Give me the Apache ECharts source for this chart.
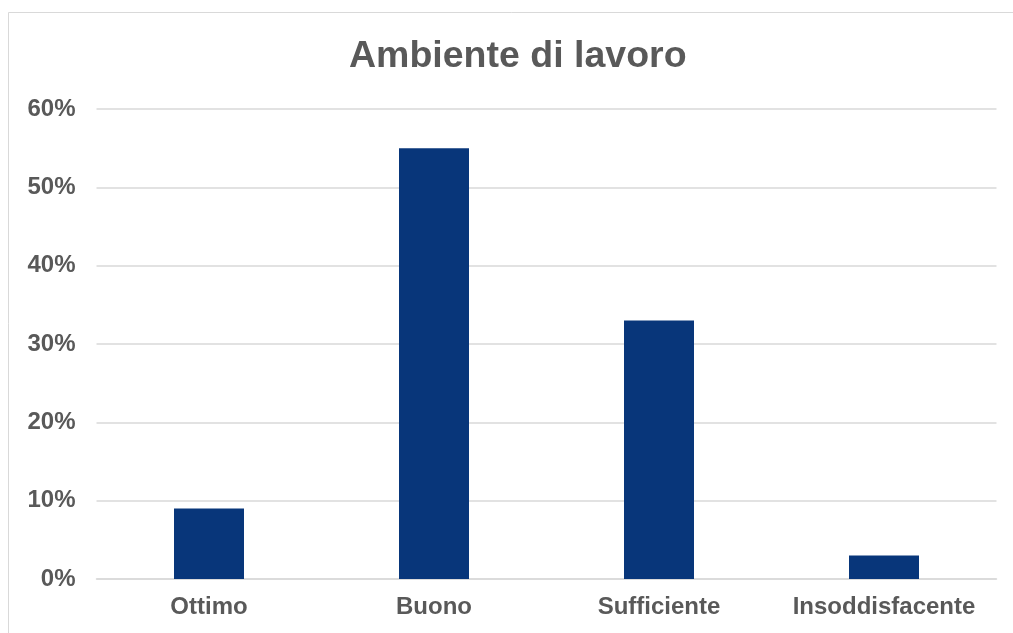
<!DOCTYPE html>
<html><head><meta charset="utf-8">
<script src="https://cdn.jsdelivr.net/npm/echarts@6/dist/echarts.min.js"></script>
<style>html,body{margin:0;padding:0;background:#fff}#c{width:1013px;height:633px}</style>
</head><body><div id="c"></div>
<script>
const categories = ['Ottimo', 'Buono', 'Sufficiente', 'Insoddisfacente'];
const values = [9, 55, 33, 3];
const yTicks = [0, 10, 20, 30, 40, 50, 60];

const chart = echarts.init(document.getElementById('c'), null, {renderer: 'canvas'});
chart.setOption({
  animation: false,
  backgroundColor: '#fff',
  graphic: [{
    type: 'rect', shape: {x: 8.5, y: 12.5, width: 1100, height: 700},
    style: {fill: 'none', stroke: '#d9d9d9', lineWidth: 1}, silent: true, z: -1
  }],
  title: {
    text: 'Ambiente di lavoro', left: 344, top: 33,
    textStyle: {fontFamily: 'Liberation Sans, Arial', fontSize: 37.5, fontWeight: 'bold', color: '#595959'}
  },
  grid: {left: 96.5, right: 16.5, top: 109, bottom: 54, containLabel: false},
  xAxis: {
    type: 'category', data: categories,
    axisLine: {lineStyle: {color: '#d9d9d9', width: 1.5}},
    axisTick: {show: false},
    axisLabel: {interval: 0, hideOverlap: false, fontFamily: 'Liberation Sans, Arial', fontSize: 24, fontWeight: 'bold', color: '#595959', margin: 16}
  },
  yAxis: {
    type: 'value', min: yTicks[0], max: yTicks[yTicks.length - 1], interval: 10,
    axisLine: {show: false}, axisTick: {show: false},
    splitLine: {lineStyle: {color: '#d9d9d9', width: 1.5}},
    axisLabel: {formatter: '{value}%', fontFamily: 'Liberation Sans, Arial', fontSize: 24, fontWeight: 'bold', color: '#595959', margin: 21}
  },
  series: [{
    type: 'bar', data: values, barWidth: 70,
    itemStyle: {color: '#08367A'}
  }]
});
</script></body></html>
